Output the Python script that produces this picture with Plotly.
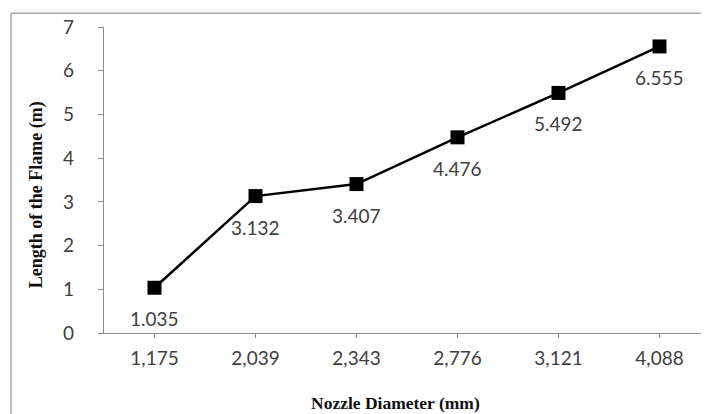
import plotly.graph_objects as go

nozzle_diameter = ["1,175", "2,039", "2,343", "2,776", "3,121", "4,088"]
flame_length = [1.035, 3.132, 3.407, 4.476, 5.492, 6.555]
label_text = ["1.035", "3.132", "3.407", "4.476", "5.492", "6.555"]
y_ticks = [0, 1, 2, 3, 4, 5, 6, 7]

# page body has an 8px margin: figure coords = screen coords - 8
OFF = 8
W, H = 709, 414
ML, MR, MT, MB = 104 - OFF, 7, 22 - OFF, H - (333 - OFF)
pw, ph = W - ML - MR, H - MT - MB


def px_x(sx):
    return (sx - OFF - ML) / pw


def px_y(sy):
    return 1 - (sy - OFF - MT) / ph


fig = go.Figure()
fig.add_trace(go.Scatter(
    x=nozzle_diameter, y=flame_length, mode="lines+markers",
    line=dict(color="black", width=2.5),
    marker=dict(symbol="square", size=14, color="black"),
    showlegend=False, hoverinfo="skip", cliponaxis=False,
))

for xv, yv, t in zip(nozzle_diameter, flame_length, label_text):
    fig.add_annotation(x=xv, y=yv, text=t, showarrow=False, yshift=-31,
                       font=dict(family="Lato", size=19, color="#404040"))

# y-axis title
fig.add_annotation(xref="paper", yref="paper",
                   x=px_x(36), y=px_y(193), xanchor="center", yanchor="middle",
                   text="<b>Length of the Flame (m)</b>", textangle=-90,
                   showarrow=False,
                   font=dict(family="Liberation Serif", size=18, color="#111"))
# x-axis title
fig.add_annotation(xref="paper", yref="paper",
                   x=px_x(395), y=px_y(404), xanchor="center", yanchor="middle",
                   text="<b>Nozzle Diameter (mm)</b>", showarrow=False,
                   font=dict(family="Liberation Serif", size=17.5, color="#111"))

# outer frame (left and top edges visible)
fig.add_shape(type="line", xref="paper", yref="paper",
              x0=px_x(11), x1=px_x(11), y0=px_y(8), y1=px_y(430),
              line=dict(color="#a8a8a8", width=1.5))
fig.add_shape(type="line", xref="paper", yref="paper",
              x0=px_x(11), x1=px_x(725), y0=px_y(8), y1=px_y(8),
              line=dict(color="#a8a8a8", width=1.5))

fig.update_layout(
    width=W, height=H,
    margin=dict(l=ML, r=MR, t=MT, b=MB),
    paper_bgcolor="white", plot_bgcolor="white",
    xaxis=dict(type="category", range=[-0.5, 5.5],
               showline=True, linecolor="#8c8c8c", linewidth=1.2,
               ticks="outside", ticklen=4, tickcolor="#8c8c8c",
               showgrid=False, zeroline=False,
               tickfont=dict(family="Lato", size=19, color="#404040"),
               ticklabelstandoff=4),
    yaxis=dict(range=[0, 7], tickvals=y_ticks,
               showline=True, linecolor="#8c8c8c", linewidth=1.2,
               ticks="outside", ticklen=5, tickcolor="#8c8c8c",
               showgrid=False, zeroline=False,
               tickfont=dict(family="Lato", size=19, color="#404040"),
               ticklabelstandoff=20),
)

fig.write_html("out.html")
